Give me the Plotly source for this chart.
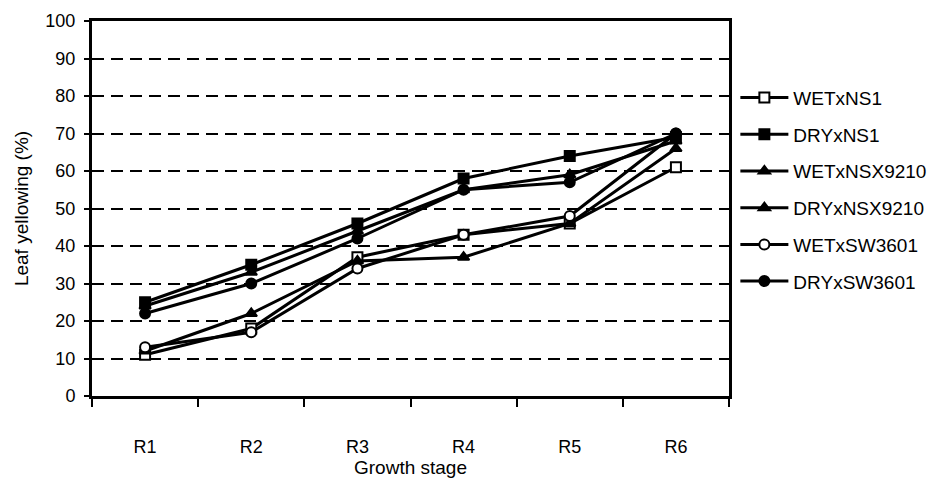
import plotly.graph_objects as go

stages = ["R1", "R2", "R3", "R4", "R5", "R6"]

wet_ns1 = [11, 18, 37, 43, 46, 61]
dry_ns1 = [25, 35, 46, 58, 64, 69]
wet_nsx9210 = [12, 22, 36, 37, 46, 66]
dry_nsx9210 = [24, 33, 44, 55, 59, 68]
wet_sw3601 = [13, 17, 34, 43, 48, 70]
dry_sw3601 = [22, 30, 42, 55, 57, 70]

series = [
    ("WETxNS1", wet_ns1, "square", "white"),
    ("DRYxNS1", dry_ns1, "square", "black"),
    ("WETxNSX9210", wet_nsx9210, "triangle-up", "black"),
    ("DRYxNSX9210", dry_nsx9210, "triangle-up", "black"),
    ("WETxSW3601", wet_sw3601, "circle", "white"),
    ("DRYxSW3601", dry_sw3601, "circle", "black"),
]

fig = go.Figure()
for i, (name, vals, sym, fill) in enumerate(series):
    fig.add_trace(go.Scatter(
        x=stages, y=vals, name=name, mode="lines+markers",
        line=dict(color="black", width=3),
        marker=dict(symbol=sym, size=10, color=fill,
                    line=dict(color="black", width=2)),
        legendgroup=f"g{i}",
    ))

font_family = "Liberation Sans, Arial, sans-serif"

fig.update_layout(
    width=946, height=484,
    margin=dict(l=92, r=217, t=21, b=88),
    plot_bgcolor="white", paper_bgcolor="white",
    font=dict(family=font_family, color="black", size=18),
    showlegend=True,
    legend=dict(
        x=1.01, xanchor="left", y=0.846, yanchor="top",
        font=dict(size=19, family=font_family, color="black"),
        tracegroupgap=9, itemwidth=48, bgcolor="rgba(0,0,0,0)",
    ),
    xaxis=dict(
        type="category", range=[-0.5, 5.5],
        tickson="boundaries", ticks="outside", ticklen=8, tickwidth=1.5,
        tickcolor="black", showgrid=False, zeroline=False,
        showline=True, linewidth=3, linecolor="black", mirror=True,
        ticklabelstandoff=32,
        tickfont=dict(size=18),
        title=dict(text="Growth stage", font=dict(size=19), standoff=0),
    ),
    yaxis=dict(
        range=[0, 100], dtick=10, ticks="outside", ticklen=5, tickwidth=1.5,
        tickcolor="black", showline=True, linewidth=3, linecolor="black",
        mirror=True, zeroline=False,
        showgrid=True, gridcolor="black", gridwidth=1.5, griddash="12px,7px",
        ticklabelstandoff=5,
        tickfont=dict(size=18),
        title=dict(text="Leaf yellowing (%)", font=dict(size=19), standoff=12),
    ),
)

fig.write_html("out.html")
